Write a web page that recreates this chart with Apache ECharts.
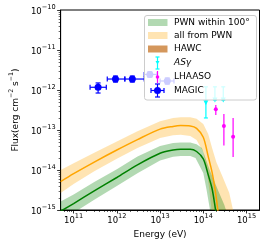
<!DOCTYPE html>
<html><head><meta charset="utf-8">
<script src="https://cdn.jsdelivr.net/npm/echarts@6/dist/echarts.min.js"></script>
<style>html,body{margin:0;padding:0;background:#fff}#c{width:266px;height:246px}</style>
</head><body><div id="c"></div>
<script>
// ---------- data ----------
const xTicks = [1e11, 1e12, 1e13, 1e14, 1e15];
const yTicks = [1e-15, 1e-14, 1e-13, 1e-12, 1e-11, 1e-10];

// all from PWN (orange) central curve
const allE = [5e10, 1e11, 3e11, 1e12, 3e12, 1e13, 2e13, 3e13, 5e13, 7e13, 1e14, 1.3e14, 1.6e14, 1.9e14, 2.2e14, 2.4e14];
const allF = [5.13e-15, 8.1e-15, 1.58e-14, 3.16e-14, 5.75e-14, 1.05e-13, 1.23e-13, 1.29e-13, 1.26e-13, 1.10e-13, 6.6e-14, 2.19e-14, 8.7e-15, 2.95e-15, 8.9e-16, 3.2e-16];
// orange band edges
const allUpE = [5e10, 1e11, 3e11, 1e12, 3e12, 1e13, 2e13, 3e13, 5e13, 7e13, 1e14, 1.3e14, 1.6e14, 2e14, 2.75e14, 4e14, 4.6e14, 5e14, 5.5e14];
const allUpF = [1.0e-14, 1.48e-14, 2.69e-14, 5.13e-14, 9.3e-14, 1.66e-13, 2.0e-13, 2.09e-13, 2.09e-13, 1.9e-13, 1.41e-13, 7.9e-14, 3.55e-14, 1.58e-14, 7.1e-15, 2.66e-15, 1.33e-15, 8.9e-16, 3.2e-16];
const allLoE = [5e10, 1e11, 3e11, 1e12, 3e12, 1e13, 2e13, 3e13, 5e13, 7e13, 1e14, 1.2e14, 1.4e14, 1.55e14, 1.7e14];
const allLoF = [2.66e-15, 4.47e-15, 9.3e-15, 1.9e-14, 3.55e-14, 6.3e-14, 7.4e-14, 7.6e-14, 7.1e-14, 5.6e-14, 2.8e-14, 1.0e-14, 2.8e-15, 1.0e-15, 2.5e-16];

// PWN within 100 deg (green) central curve
const inE = [5e10, 1e11, 3e11, 1e12, 3e12, 1e13, 2e13, 3e13, 5e13, 7e13, 1e14, 1.3e14, 1.6e14, 1.9e14, 2.2e14];
const inF = [9.3e-16, 1.45e-15, 3.0e-15, 6.5e-15, 1.35e-14, 2.63e-14, 3.16e-14, 3.3e-14, 3.3e-14, 2.9e-14, 1.9e-14, 7.6e-15, 3.4e-15, 1.1e-15, 4e-16];
const inUpE = [5e10, 1e11, 3e11, 1e12, 3e12, 1e13, 2e13, 3e13, 5e13, 7e13, 9.3e13, 1.4e14, 2.17e14, 3.06e14, 3.35e14, 3.8e14];
const inUpF = [1.62e-15, 2.45e-15, 5.0e-15, 1.05e-14, 2.19e-14, 4.0e-14, 4.7e-14, 4.9e-14, 4.9e-14, 4.4e-14, 3.55e-14, 1.02e-14, 3.2e-15, 1.35e-15, 1.0e-15, 4e-16];
const inLoE = [5e10, 1e11, 3e11, 1e12, 3e12, 1e13, 2e13, 3e13, 5e13, 6.6e13, 1e14, 1.19e14, 1.41e14, 1.5e14];
const inLoF = [5.4e-16, 8.5e-16, 1.8e-15, 4.0e-15, 8.3e-15, 1.74e-14, 2.14e-14, 2.24e-14, 2.24e-14, 2.0e-14, 8.4e-15, 3.2e-15, 1.1e-15, 4e-16];

// MAGIC: energy, flux, energy low/high, flux low/high
const magicE   = [3.68e11, 9.3e11, 2.28e12, 5.8e12, 1.47e13];
const magicF   = [1.17e-12, 1.88e-12, 1.88e-12, 2.45e-12, 1.68e-12];
const magicElo = [2.4e11, 6.0e11, 1.53e12, 4.3e12, 1.0e13];
const magicEhi = [5.7e11, 1.53e12, 4.3e12, 8.5e12, 2.1e13];
const magicFlo = [8.4e-13, 1.58e-12, 1.58e-12, 2.1e-12, 1.4e-12];
const magicFhi = [1.5e-12, 2.23e-12, 2.23e-12, 2.85e-12, 2.0e-12];

// AS-gamma
const asgE   = [1.15e14, 1.86e14, 2.9e14];
const asgF   = [4.8e-13, 5.6e-13, 5.6e-13];
const asgFlo = [2.0e-13, 5.6e-13, 5.6e-13];
const asgFhi = [1.2e-12, 1.2e-12, 1.2e-12];

// LHAASO
const lhE   = [1.95e14, 3.0e14, 4.9e14];
const lhF   = [3.3e-13, 1.26e-13, 6.8e-14];
const lhFlo = [2.37e-13, 4.1e-14, 2.1e-14];
const lhFhi = [4.2e-13, 2.5e-13, 2.0e-13];

const legendNames = ['PWN within 100°', 'all from PWN', 'HAWC', 'ASγ', 'LHAASO', 'MAGIC'];

// ---------- chart ----------
const FONT = 'DejaVu Sans';
const X0 = 5e10, X1 = 2e15, Y0 = 1e-15, Y1 = 1e-10;
function minor(lo, hi) {
  const out = [];
  for (let e = Math.floor(Math.log10(lo)) - 1; e <= Math.ceil(Math.log10(hi)); e++) {
    for (let m = 2; m <= 9; m++) {
      const v = parseFloat((m * Math.pow(10, e)).toPrecision(6));
      if (v > lo * 1.0001 && v < hi * 0.9999) out.push(v);
    }
  }
  return out;
}
const expFmt = (neg) => (v) => {
  const e = Math.round(Math.log10(v));
  return '{b|10}{s|' + (e < 0 ? '\u2212' + (-e) : e) + '}';
};
const tickRich = {
  b: { fontSize: 8.5, fontFamily: FONT, color: '#000', lineHeight: 12, verticalAlign: 'bottom' },
  s: { fontSize: 6.6, fontFamily: FONT, color: '#000', lineHeight: 5, verticalAlign: 'top' }
};
const pair = (a, b) => a.map((v, i) => [v, b[i]]);

function band(upE, upF, loE, loF, color, z) {
  return {
    type: 'custom', clip: true, silent: true, z: z,
    data: [[upE[0], upF[0]]],
    renderItem: function (params, api) {
      const pts = [];
      for (let i = 0; i < upE.length; i++) pts.push(api.coord([upE[i], upF[i]]));
      for (let i = loE.length - 1; i >= 0; i--) pts.push(api.coord([loE[i], loF[i]]));
      return { type: 'polygon', shape: { points: pts, smooth: 0 }, style: { fill: color } };
    }
  };
}
function errbars(data, color, cap, z) {
  return {
    type: 'custom', silent: true, z: z,
    data: data,
    renderItem: function (params, api) {
      const E = api.value(0), F = api.value(1), el = api.value(2), eh = api.value(3), fl = api.value(4), fh = api.value(5);
      const ch = [];
      const ls = { stroke: color, lineWidth: 1.2 };
      const pl = api.coord([E, fl]), ph = api.coord([E, fh]);
      ch.push({ type: 'line', shape: { x1: pl[0], y1: pl[1], x2: ph[0], y2: ph[1] }, style: ls });
      if (cap) {
        ch.push({ type: 'line', shape: { x1: pl[0] - cap, y1: pl[1], x2: pl[0] + cap, y2: pl[1] }, style: ls });
        ch.push({ type: 'line', shape: { x1: ph[0] - cap, y1: ph[1], x2: ph[0] + cap, y2: ph[1] }, style: ls });
      }
      if (el !== eh) {
        const a = api.coord([el, F]), b = api.coord([eh, F]);
        ch.push({ type: 'line', shape: { x1: a[0], y1: a[1], x2: b[0], y2: b[1] }, style: ls });
        if (cap) {
          ch.push({ type: 'line', shape: { x1: a[0], y1: a[1] - cap, x2: a[0], y2: a[1] + cap }, style: ls });
          ch.push({ type: 'line', shape: { x1: b[0], y1: b[1] - cap, x2: b[0], y2: b[1] + cap }, style: ls });
        }
      }
      return { type: 'group', children: ch };
    }
  };
}

const magicErr = magicE.map((e, i) => [e, magicF[i], magicElo[i], magicEhi[i], magicFlo[i], magicFhi[i]]);
const asgErr = asgE.map((e, i) => [e, asgF[i], e, e, asgFlo[i], asgFhi[i]]);
const lhErr = lhE.map((e, i) => [e, lhF[i], e, e, lhFlo[i], lhFhi[i]]);

// legend (drawn as graphic)
const LX = 144.5, LY = 15.5, rows = [22.5, 35.5, 49, 63, 77, 90.5];
const legendColors = ['rgba(0,128,0,0.3)', 'rgba(255,165,0,0.3)', 'rgba(205,133,63,0.85)', '#00ffff', '#ff00ff', '#0000ff'];
const g = [];
g.push({ type: 'rect', z: 100, shape: { x: LX, y: LY, width: 112, height: 84.5, r: 2.5 }, style: { fill: 'rgba(255,255,255,0.8)', stroke: '#cccccc', lineWidth: 1 } });
for (let i = 0; i < 3; i++) g.push({ type: 'rect', z: 101, shape: { x: 148, y: rows[i] - 3.5, width: 19.5, height: 7 }, style: { fill: legendColors[i] } });
(function () {
  const y = rows[3], c = legendColors[3];
  g.push({ type: 'line', z: 101, shape: { x1: 157.5, y1: y - 6, x2: 157.5, y2: y + 6 }, style: { stroke: c, lineWidth: 1.2 } });
  g.push({ type: 'line', z: 101, shape: { x1: 155.5, y1: y - 6, x2: 159.5, y2: y - 6 }, style: { stroke: c, lineWidth: 1.2 } });
  g.push({ type: 'line', z: 101, shape: { x1: 155.5, y1: y + 6, x2: 159.5, y2: y + 6 }, style: { stroke: c, lineWidth: 1.2 } });
  g.push({ type: 'polygon', z: 101, shape: { points: [[155.5, y - 2], [159.5, y - 2], [157.5, y + 1.5]] }, style: { fill: c } });
  const y2 = rows[4], c2 = legendColors[4];
  g.push({ type: 'line', z: 101, shape: { x1: 157.5, y1: y2 - 6, x2: 157.5, y2: y2 + 6 }, style: { stroke: c2, lineWidth: 1.2 } });
  g.push({ type: 'circle', z: 101, shape: { cx: 157.5, cy: y2, r: 1.8 }, style: { fill: c2 } });
  const y3 = rows[5], c3 = legendColors[5];
  g.push({ type: 'line', z: 101, shape: { x1: 151, y1: y3, x2: 164, y2: y3 }, style: { stroke: c3, lineWidth: 1.2 } });
  g.push({ type: 'line', z: 101, shape: { x1: 157.5, y1: y3 - 6.5, x2: 157.5, y2: y3 + 6.5 }, style: { stroke: c3, lineWidth: 1.2 } });
  g.push({ type: 'line', z: 101, shape: { x1: 151, y1: y3 - 2.5, x2: 151, y2: y3 + 2.5 }, style: { stroke: c3, lineWidth: 1.2 } });
  g.push({ type: 'line', z: 101, shape: { x1: 164, y1: y3 - 2.5, x2: 164, y2: y3 + 2.5 }, style: { stroke: c3, lineWidth: 1.2 } });
  g.push({ type: 'line', z: 101, shape: { x1: 155, y1: y3 - 6.5, x2: 160, y2: y3 - 6.5 }, style: { stroke: c3, lineWidth: 1.2 } });
  g.push({ type: 'line', z: 101, shape: { x1: 155, y1: y3 + 6.5, x2: 160, y2: y3 + 6.5 }, style: { stroke: c3, lineWidth: 1.2 } });
  g.push({ type: 'circle', z: 101, shape: { cx: 157.5, cy: y3, r: 3.5 }, style: { fill: c3 } });
})();
legendNames.forEach((n, i) => {
  g.push({ type: 'text', z: 101, x: 174, y: rows[i], style: { text: n, fill: '#000', font: (i === 3 ? 'italic ' : '') + '9px "DejaVu Sans"', verticalAlign: 'middle', textAlign: 'left' } });
});

const chart = echarts.init(document.getElementById('c'), null, { renderer: 'canvas' });
chart.setOption({
  animation: false,
  backgroundColor: '#fff',
  grid: { left: 53.5, top: 10, width: 206, height: 200, show: true, borderColor: '#000', borderWidth: 1, backgroundColor: 'transparent' },
  xAxis: [{
    type: 'log', logBase: 10, min: X0, max: X1, position: 'bottom',
    name: 'Energy (eV)', nameLocation: 'middle', nameGap: 19,
    nameTextStyle: { fontSize: 9, fontFamily: FONT, color: '#000' },
    axisLine: { show: true, lineStyle: { color: '#000', width: 1 } },
    axisTick: { show: true, inside: false, length: 3.5, lineStyle: { color: '#000', width: 0.8 }, customValues: xTicks },
    axisLabel: { show: true, margin: 3, customValues: xTicks, formatter: expFmt(false), rich: tickRich },
    splitLine: { show: false }, minorTick: { show: false }
  }, {
    type: 'log', logBase: 10, min: X0, max: X1, position: 'bottom', offset: 0,
    axisLine: { show: false },
    axisTick: { show: true, inside: false, length: 2, lineStyle: { color: '#000', width: 0.6 }, customValues: minor(X0, X1) },
    axisLabel: { show: false }, splitLine: { show: false }
  }],
  yAxis: [{
    type: 'log', logBase: 10, min: Y0, max: Y1, position: 'left',
    name: '{t|Flux(erg cm}{s|\u22122}{t| s}{s|\u22121}{t|)}', nameLocation: 'middle', nameGap: 39,
    nameTextStyle: { fontSize: 9, fontFamily: FONT, color: '#000', rich: {
      t: { fontSize: 9, fontFamily: FONT, color: '#000', lineHeight: 12, verticalAlign: 'bottom' },
      s: { fontSize: 6.3, fontFamily: FONT, color: '#000', lineHeight: 6, verticalAlign: 'top' } } },
    axisLine: { show: true, lineStyle: { color: '#000', width: 1 } },
    axisTick: { show: true, inside: false, length: 3.5, lineStyle: { color: '#000', width: 0.8 }, customValues: yTicks },
    axisLabel: { show: true, margin: 5, customValues: yTicks, formatter: expFmt(true), rich: tickRich },
    splitLine: { show: false }
  }, {
    type: 'log', logBase: 10, min: Y0, max: Y1, position: 'left', offset: 0,
    axisLine: { show: false },
    axisTick: { show: true, inside: false, length: 2, lineStyle: { color: '#000', width: 0.6 }, customValues: minor(Y0, Y1) },
    axisLabel: { show: false }, splitLine: { show: false }
  }],
  series: [
    Object.assign(band(allUpE, allUpF, allLoE, allLoF, 'rgba(255,165,0,0.3)', 1), { name: 'all from PWN' }),
    Object.assign(band(inUpE, inUpF, inLoE, inLoF, 'rgba(0,128,0,0.3)', 1), { name: 'PWN within 100°' }),
    { type: 'line', name: 'all from PWN line', data: pair(allE, allF), symbol: 'none', smooth: 0.3, clip: true, z: 2, lineStyle: { color: '#ffa500', width: 1.5 } },
    { type: 'line', name: 'PWN within 100° line', data: pair(inE, inF), symbol: 'none', smooth: 0.3, clip: true, z: 2, lineStyle: { color: '#008000', width: 1.5 } },
    Object.assign(errbars(magicErr, '#0000ff', 2.5, 3), { name: 'MAGIC err' }),
    { type: 'scatter', name: 'MAGIC', data: pair(magicE, magicF), symbol: 'circle', symbolSize: 7, z: 4, itemStyle: { color: '#0000ff', opacity: 1 } },
    Object.assign(errbars(asgErr, '#00ffff', 2, 3), { name: 'ASγ err' }),
    { type: 'scatter', name: 'ASγ', data: pair(asgE, asgF), symbol: 'triangle', symbolRotate: 180, symbolSize: 5, z: 4, itemStyle: { color: '#00ffff', opacity: 1 } },
    Object.assign(errbars(lhErr, '#ff00ff', 0, 3), { name: 'LHAASO err' }),
    { type: 'scatter', name: 'LHAASO', data: pair(lhE, lhF), symbol: 'circle', symbolSize: 4, z: 4, itemStyle: { color: '#ff00ff', opacity: 1 } }
  ],
  graphic: { elements: g }
});
</script>
</body></html>
